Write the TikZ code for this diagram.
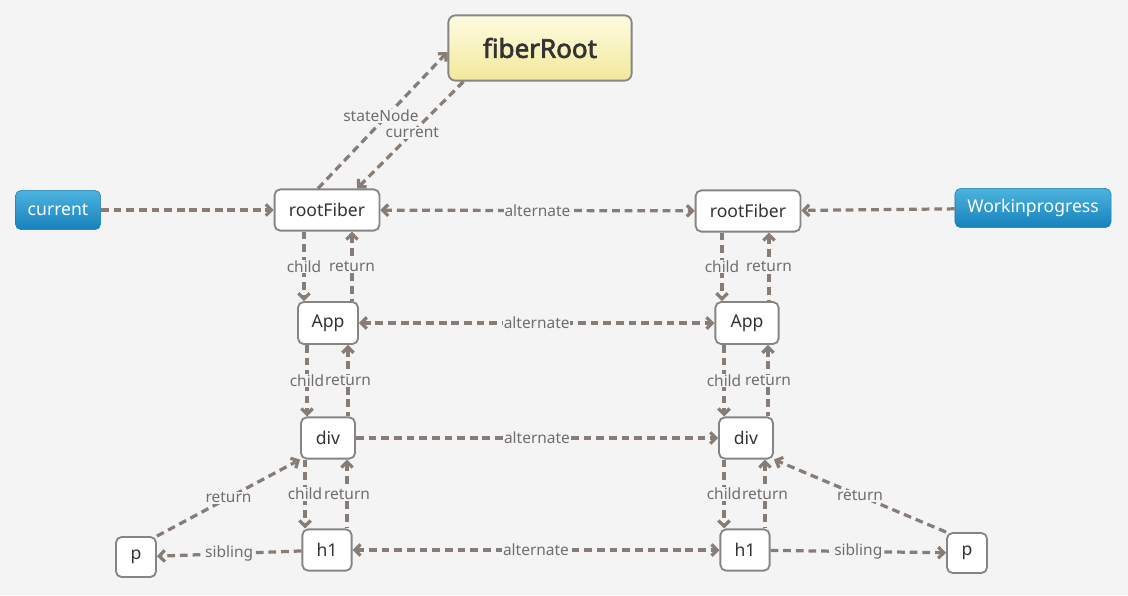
\documentclass[tikz,border=0pt]{standalone}
\usepackage{fontspec}
\setmainfont{Noto Sans}
\newfontfamily\rootfont{Noto Sans}[FakeBold=2.5]
\usepackage{tikz}
\usetikzlibrary{arrows.meta,calc}

\definecolor{bgc}{HTML}{F4F4F4}
\definecolor{linec}{HTML}{877D76}
\definecolor{labc}{HTML}{6E6E6E}
\definecolor{boxc}{HTML}{858585}
\definecolor{txtc}{HTML}{333333}
\definecolor{tagline}{HTML}{1A7DB5}
\definecolor{tagtop}{HTML}{4DB3DE}
\definecolor{tagbot}{HTML}{1681BC}
\definecolor{roottop}{HTML}{FEFCE2}
\definecolor{rootbot}{HTML}{F2E89A}

\tikzset{
  fib/.style={draw=boxc,line width=1.3pt,fill=white,rounded corners=4pt,
    text=txtc,font=\fontsize{12.5}{14}\selectfont,inner sep=0pt},
  tag/.style={draw=tagline,rounded corners=4pt,top color=tagtop,bottom color=tagbot,
    text=white,font=\fontsize{12.5}{14}\selectfont,minimum height=0.98cm,inner sep=0pt},
  link/.style={draw=linec,line width=2.3pt,dash pattern=on 5.5pt off 3.5pt},
  lab/.style={fill=bgc,text=labc,font=\fontsize{11}{13}\selectfont,inner sep=0.5pt}
}

\begin{document}
\begin{tikzpicture}[x=0.025cm,y=-0.025cm,>={Straight Barb[length=4pt,width=8pt]}]
\fill[bgc] (0,0) rectangle (1128,595);
\useasboundingbox (0,0) rectangle (1128,595);

% top
\node[draw=boxc,line width=1.3pt,rounded corners=5pt,top color=roottop,bottom color=rootbot,
  minimum width=4.58cm,minimum height=1.63cm,text=txtc,font=\fontsize{18.5}{20}\rootfont]
  (root) at (540,48) {fiberRoot};
\node[tag,minimum width=2.13cm] (cur) at (58,210) {current};
\node[tag,minimum width=3.9cm] (wip) at (1033,208) {Workinprogress};

% current tree
\node[fib,minimum width=2.62cm,minimum height=1.03cm] (rfL) at (327,210) {rootFiber};
\node[fib,minimum width=1.5cm,minimum height=1.05cm] (appL) at (328,323) {App};
\node[fib,minimum width=1.35cm,minimum height=1.03cm] (divL) at (328,438) {div};
\node[fib,minimum width=1.23cm,minimum height=1.03cm] (h1L) at (327,550) {h1};
\node[fib,minimum width=1cm,minimum height=1cm] (pL) at (136,557) {p};

% workInProgress tree
\node[fib,minimum width=2.62cm,minimum height=1.03cm] (rfR) at (748,211) {rootFiber};
\node[fib,minimum width=1.58cm,minimum height=1.05cm] (appR) at (747,323) {App};
\node[fib,minimum width=1.35cm,minimum height=1.03cm] (divR) at (746,438) {div};
\node[fib,minimum width=1.23cm,minimum height=1.03cm] (h1R) at (745,550) {h1};
\node[fib,minimum width=1cm,minimum height=1cm] (pR) at (967,553) {p};

% pointers from the tags
\draw[link,->] (cur) -- (rfL);
\draw[link,->] (wip) -- (rfR);

% fiberRoot
\draw[link,->] ($(rfL.north)+(-9,0)$) -- node[lab,pos=0.53,xshift=-4pt] {stateNode} ($(root.west)+(0,4)$);
\draw[link,->] ($(root.south west)+(16,0)$) -- node[lab,pos=0.48] {current} ($(rfL.north)+(30,0)$);

% alternate
\draw[link,<->] (rfL) -- node[lab] {alternate} (rfR);
\draw[link,<->] (appL) -- node[lab] {alternate} (appR);
\draw[link,->] (divL) -- node[lab] {alternate} (divR);
\draw[link,<->] (h1L) -- node[lab] {alternate} (h1R);

% child / return, left
\draw[link,->] ($(rfL.south)+(-23,0)$) coordinate (a) -- node[lab] {child} (a |- appL.north);
\draw[link,<-] ($(rfL.south)+(25,0)$) coordinate (a) -- node[lab] {return} (a |- appL.north);
\draw[link,->] ($(appL.south)+(-21,0)$) coordinate (a) -- node[lab] {child} (a |- divL.north);
\draw[link,<-] ($(appL.south)+(20,0)$) coordinate (a) -- node[lab] {return} (a |- divL.north);
\draw[link,->] ($(divL.south)+(-23,0)$) coordinate (a) -- node[lab] {child} (a |- h1L.north);
\draw[link,<-] ($(divL.south)+(19,0)$) coordinate (a) -- node[lab] {return} (a |- h1L.north);

% child / return, right
\draw[link,->] ($(rfR.south)+(-26,0)$) coordinate (a) -- node[lab] {child} (a |- appR.north);
\draw[link,<-] ($(rfR.south)+(21,0)$) coordinate (a) -- node[lab] {return} (a |- appR.north);
\draw[link,->] ($(appR.south)+(-23,0)$) coordinate (a) -- node[lab] {child} (a |- divR.north);
\draw[link,<-] ($(appR.south)+(21,0)$) coordinate (a) -- node[lab] {return} (a |- divR.north);
\draw[link,->] ($(divR.south)+(-22,0)$) coordinate (a) -- node[lab] {child} (a |- h1R.north);
\draw[link,<-] ($(divR.south)+(19,0)$) coordinate (a) -- node[lab] {return} (a |- h1R.north);

% siblings
\draw[link,->] (h1L) -- node[lab] {sibling} (pL);
\draw[link,->] (h1R) -- node[lab] {sibling} (pR);
\draw[link,->] (pL.north east) -- node[lab] {return} (divL.south west);
\draw[link,->] (pR.north west) -- node[lab] {return} (divR.south east);
\end{tikzpicture}
\end{document}
